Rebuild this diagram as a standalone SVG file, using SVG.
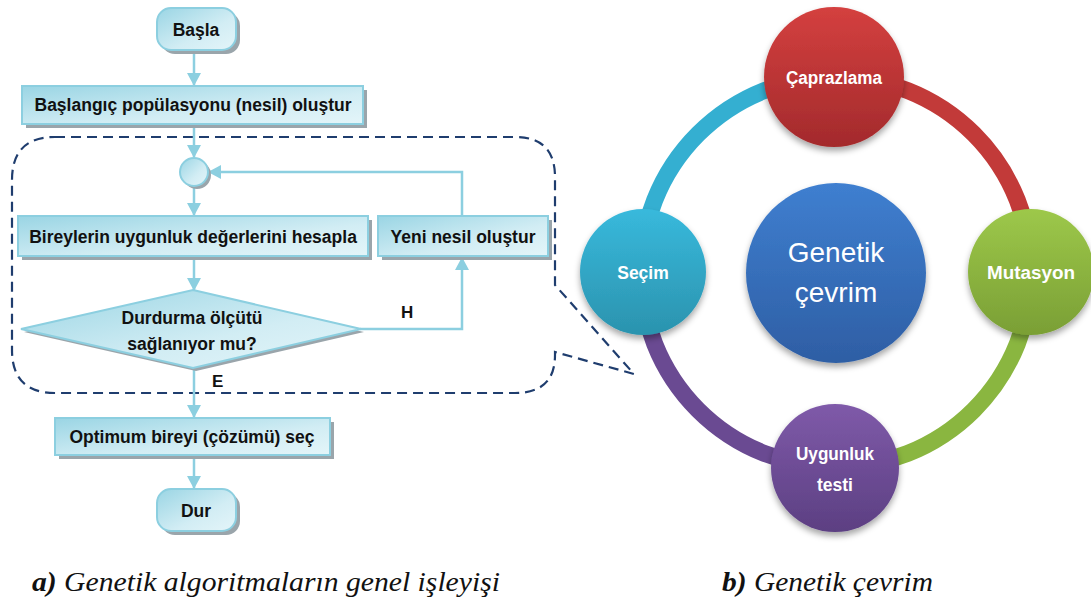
<svg xmlns="http://www.w3.org/2000/svg" width="1091" height="602" viewBox="0 0 1091 602">
<style>
.box{fill:url(#boxg);stroke:#8ccfe0;stroke-width:2}
.sh{fill:#9aa5ab}
.bt{font-family:"Liberation Sans",Arial,sans-serif;font-weight:bold;font-size:17.5px;fill:#111;text-anchor:middle}
.lbl{font-family:"Liberation Sans",Arial,sans-serif;font-weight:bold;font-size:17px;fill:#111}
.con{fill:none;stroke:#8ccfe0;stroke-width:2.5}
.ring{fill:none;stroke-width:17}
.nt{font-family:"Liberation Sans",Arial,sans-serif;font-weight:bold;font-size:17.5px;fill:#fff;text-anchor:middle}
.ct{font-family:"Liberation Sans",Arial,sans-serif;font-size:28px;fill:#fff;text-anchor:middle}
.cap{font-family:"Liberation Serif","Times New Roman",serif;font-style:italic;font-size:28px;fill:#111}
.dash{fill:none;stroke:#1f3d6e;stroke-width:2.2;stroke-dasharray:10 6}
</style>
<defs>
<linearGradient id="boxg" x1="0" y1="0" x2="1" y2="1">
<stop offset="0" stop-color="#9ad5e4"/><stop offset="0.6" stop-color="#d2edf4"/><stop offset="1" stop-color="#e4f5f9"/>
</linearGradient>
<linearGradient id="gr" x1="0" y1="0" x2="0" y2="1"><stop offset="0" stop-color="#d4403f"/><stop offset="1" stop-color="#a32a2c"/></linearGradient>
<linearGradient id="gc" x1="0" y1="0" x2="0" y2="1"><stop offset="0" stop-color="#38b9dc"/><stop offset="1" stop-color="#2b93ae"/></linearGradient>
<linearGradient id="gg" x1="0" y1="0" x2="0" y2="1"><stop offset="0" stop-color="#9dc84a"/><stop offset="1" stop-color="#7a9f35"/></linearGradient>
<linearGradient id="gp" x1="0" y1="0" x2="0" y2="1"><stop offset="0" stop-color="#7f5aa9"/><stop offset="1" stop-color="#5c3f82"/></linearGradient>
<linearGradient id="gb" x1="0" y1="0" x2="0" y2="1"><stop offset="0" stop-color="#3f7fd0"/><stop offset="1" stop-color="#2e5ea4"/></linearGradient>
<filter id="ds" x="-30%" y="-30%" width="160%" height="170%"><feDropShadow dx="0" dy="4" stdDeviation="3" flood-color="#000" flood-opacity="0.35"/></filter>
<marker id="ah" markerUnits="userSpaceOnUse" markerWidth="14" markerHeight="14" refX="12" refY="7" orient="auto"><path d="M0,0 L13,7 L0,14 Z" fill="#8ccfe0"/></marker>
</defs>
<rect width="1091" height="602" fill="#fff"/>

<g id="region">
<path class="dash" d="M55 137 H515 Q555 137 555 177 V285 L634 374 L555 352 V355 Q555 393 515 393 H55 Q12 393 12 350 V180 Q12 137 55 137 Z"/>
</g>

<g id="connectors">
<path class="con" d="M194 50 V85" marker-end="url(#ah)"/>
<path class="con" d="M194 124 V157" marker-end="url(#ah)"/>
<path class="con" d="M194 186 V215" marker-end="url(#ah)"/>
<path class="con" d="M194 256 V290" marker-end="url(#ah)"/>
<path class="con" d="M360 329 H462 V258" marker-end="url(#ah)"/>
<path class="con" d="M462 216 V172 H209" marker-end="url(#ah)"/>
<path class="con" d="M194 368 V417" marker-end="url(#ah)"/>
<path class="con" d="M194 455 V488" marker-end="url(#ah)"/>
<path class="ring" stroke="#34afd1" d="M641 272 A195 195 0 0 1 836 77"/>
<path class="ring" stroke="#c23a39" d="M836 77 A195 195 0 0 1 1031 272"/>
<path class="ring" stroke="#8ab640" d="M1031 272 A195 195 0 0 1 836 467"/>
<path class="ring" stroke="#6a4a92" d="M836 467 A195 195 0 0 1 641 272"/>
</g>

<g id="basla">
<rect class="sh" x="161" y="12" width="79" height="42" rx="14"/>
<rect class="box" x="157" y="8" width="79" height="42" rx="14"/>
<text class="bt" x="196" y="36">Başla</text>
</g>
<g id="baslangic">
<rect class="sh" x="26" y="90" width="341" height="38"/>
<rect class="box" x="22" y="86" width="341" height="38"/>
<text class="bt" x="193" y="111">Başlangıç popülasyonu (nesil) oluştur</text>
</g>
<g id="junction">
<circle class="sh" cx="197" cy="175" r="14"/>
<circle class="box" cx="194" cy="172" r="14"/>
</g>
<g id="bireyler">
<rect class="sh" x="22" y="220" width="350" height="40"/>
<rect class="box" x="18" y="216" width="350" height="40"/>
<text class="bt" x="193" y="243">Bireylerin uygunluk değerlerini hesapla</text>
</g>
<g id="yeni">
<rect class="sh" x="382" y="220" width="170" height="40"/>
<rect class="box" x="378" y="216" width="170" height="40"/>
<text class="bt" x="463" y="243">Yeni nesil oluştur</text>
</g>
<g id="durdurma">
<polygon class="sh" points="196,294 364,332 196,371 24,332"/>
<polygon class="box" points="193,290 361,329 193,368 21,329"/>
<text class="bt" x="192" y="324">Durdurma ölçütü</text>
<text class="bt" x="192" y="350">sağlanıyor mu?</text>
</g>
<text class="lbl" x="401" y="318">H</text>
<text class="lbl" x="212" y="387">E</text>
<g id="optimum">
<rect class="sh" x="59" y="422" width="275" height="37"/>
<rect class="box" x="55" y="418" width="275" height="37"/>
<text class="bt" x="192" y="443">Optimum bireyi (çözümü) seç</text>
</g>
<g id="dur">
<rect class="sh" x="161" y="493" width="79" height="42" rx="14"/>
<rect class="box" x="157" y="489" width="79" height="42" rx="14"/>
<text class="bt" x="196" y="517">Dur</text>
</g>

<g id="merkez">
<circle cx="836" cy="273" r="90" fill="url(#gb)" filter="url(#ds)"/>
<text class="ct" x="836" y="262">Genetik</text>
<text class="ct" x="836" y="302">çevrim</text>
</g>
<g id="caprazlama">
<circle cx="834" cy="77" r="70" fill="url(#gr)" filter="url(#ds)"/>
<text class="nt" x="834" y="84" textLength="96" lengthAdjust="spacingAndGlyphs">Çaprazlama</text>
</g>
<g id="secim">
<circle cx="643" cy="272" r="63" fill="url(#gc)" filter="url(#ds)"/>
<text class="nt" x="643" y="279">Seçim</text>
</g>
<g id="mutasyon">
<circle cx="1031" cy="272" r="63" fill="url(#gg)" filter="url(#ds)"/>
<text class="nt" x="1031" y="279" textLength="88" lengthAdjust="spacingAndGlyphs">Mutasyon</text>
</g>
<g id="uygunluk">
<circle cx="835" cy="468" r="64" fill="url(#gp)" filter="url(#ds)"/>
<text class="nt" x="835" y="460" textLength="78" lengthAdjust="spacingAndGlyphs">Uygunluk</text>
<text class="nt" x="835" y="491">testi</text>
</g>

<text class="cap" x="32" y="591" textLength="468" lengthAdjust="spacingAndGlyphs"><tspan font-weight="bold">a)</tspan> Genetik algoritmaların genel işleyişi</text>
<text class="cap" x="722" y="591" textLength="211" lengthAdjust="spacingAndGlyphs"><tspan font-weight="bold">b)</tspan> Genetik çevrim</text>
</svg>
